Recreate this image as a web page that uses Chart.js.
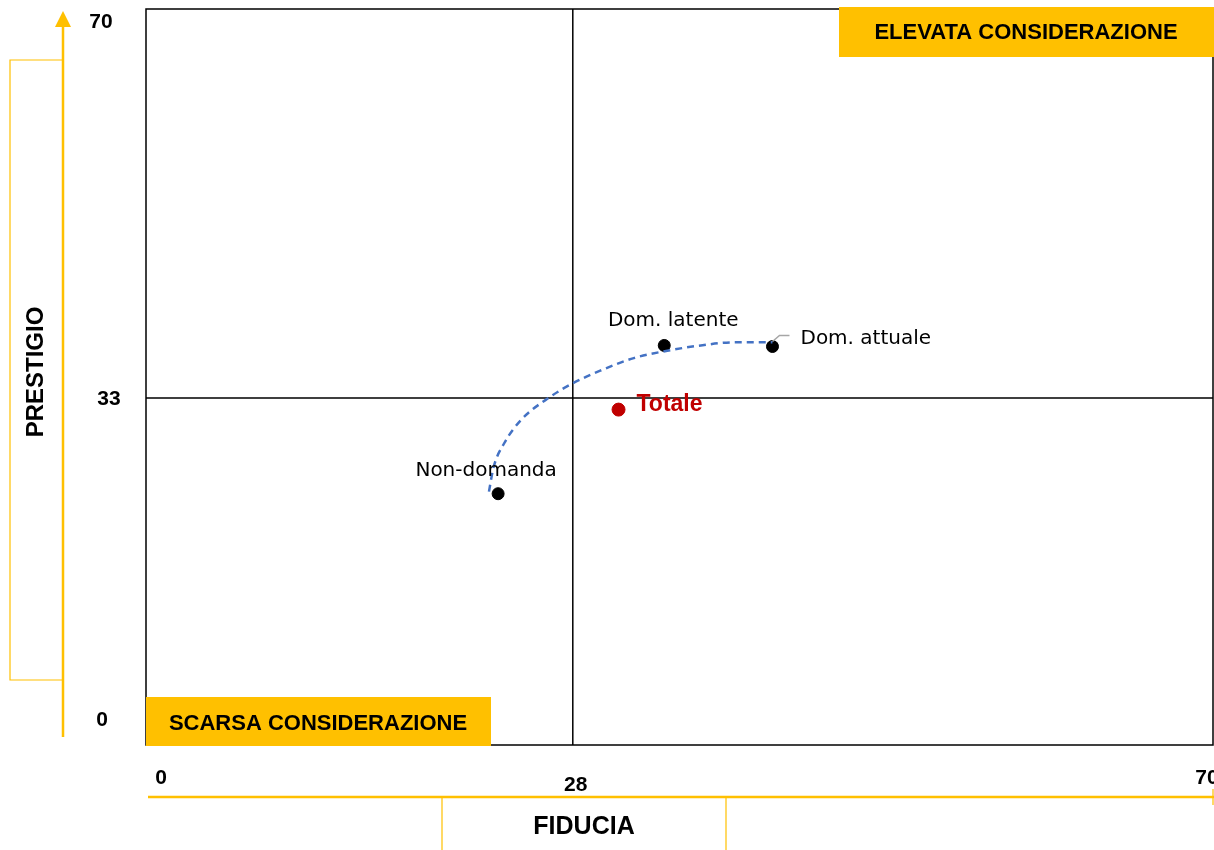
<!DOCTYPE html>
<html>
<head>
<meta charset="utf-8">
<script src="https://cdn.jsdelivr.net/npm/chart.js@4.4.1/dist/chart.umd.min.js"></script>
<style>
    html, body { margin: 0; padding: 0; background: #fff; }
    #wrap { position: relative; width: 1214px; height: 850px; }
</style>
</head>
<body>
<div id="wrap"><canvas id="mappa"></canvas></div>
<script>
// segmenti
const segmenti = ['Non-domanda', 'Dom. latente', 'Dom. attuale'];
const fiducia = [23.1, 34.0, 41.1];
const prestigio = [23.9, 38.0, 37.9];

// totale
const totaleLabel = 'Totale';
const totaleFiducia = [31.0];
const totalePrestigio = [31.9];

// linea di tendenza
const trendFiducia = [22.5, 22.8, 23.5, 24.6, 26.5, 28.0, 29.8, 32.0, 34.2, 36.4, 38.6, 41.1];
const trendPrestigio = [24.1, 26.4, 28.7, 30.9, 33.1, 34.4, 35.6, 36.8, 37.5, 38.0, 38.3, 38.3];

// assi
const xTicks = [0, 28, 70];
const yTicks = [0, 33, 70];
const xSoglia = 28;
const ySoglia = 33;
const asseMax = 70;

const ARANCIO = '#FFC000';
const BOLD = '"Liberation Sans", Arial, sans-serif';

// posizione delle etichette rispetto ai punti
const labelPos = [
    { dx: -12, dy: -18, align: 'center' },
    { dx: 9, dy: -19, align: 'center' },
    { dx: 28, dy: -3, align: 'left' }
];
const xTickPos = [{ dx: 15, y: 778 }, { dx: 3, y: 785 }, { dx: -6, y: 778 }];
const yTickPos = [{ x: 102, dy: -25 }, { x: 109, dy: 1 }, { x: 101, dy: 13 }];

const toPoints = (xs, ys) => xs.map((x, i) => ({ x: x, y: ys[i] }));

const decor = {
    id: 'decor',
    beforeDatasetsDraw(chart) {
        const ctx = chart.ctx;
        const a = chart.chartArea;
        const xs = chart.scales.x, ys = chart.scales.y;
        ctx.save();
        ctx.strokeStyle = '#000';
        ctx.lineWidth = 1.5;
        ctx.strokeRect(a.left, a.top, a.right - a.left, a.bottom - a.top);
        const qx = xs.getPixelForValue(xSoglia);
        const qy = ys.getPixelForValue(ySoglia);
        ctx.beginPath();
        ctx.moveTo(qx, a.top); ctx.lineTo(qx, a.bottom);
        ctx.moveTo(a.left, qy); ctx.lineTo(a.right, qy);
        ctx.stroke();
        ctx.restore();
    },
    afterDatasetsDraw(chart) {
        const ctx = chart.ctx;
        const xs = chart.scales.x, ys = chart.scales.y;
        ctx.save();

        // etichette dei segmenti
        const meta = chart.getDatasetMeta(1);
        ctx.font = '20px "DejaVu Sans", sans-serif';
        ctx.fillStyle = '#000';
        ctx.textBaseline = 'alphabetic';
        meta.data.forEach((p, i) => {
            const pos = labelPos[i];
            ctx.textAlign = pos.align;
            ctx.fillText(segmenti[i], p.x + pos.dx, p.y + pos.dy);
        });
        // linea guida per Dom. attuale
        const pa = meta.data[2];
        ctx.strokeStyle = '#A6A6A6';
        ctx.lineWidth = 1.5;
        ctx.beginPath();
        ctx.moveTo(pa.x, pa.y - 5);
        ctx.lineTo(pa.x + 7, pa.y - 11);
        ctx.lineTo(pa.x + 17, pa.y - 11);
        ctx.stroke();

        // Totale
        const pt = chart.getDatasetMeta(2).data[0];
        ctx.font = 'bold 23px ' + BOLD;
        ctx.fillStyle = '#C00000';
        ctx.textAlign = 'left';
        ctx.fillText(totaleLabel, pt.x + 18, pt.y + 1);

        // riquadri
        ctx.fillStyle = ARANCIO;
        ctx.fillRect(839, 7, 375, 50);
        ctx.fillRect(146, 697, 345, 49);
        ctx.fillStyle = '#000';
        ctx.font = 'bold 22px ' + BOLD;
        ctx.textAlign = 'center';
        ctx.textBaseline = 'middle';
        ctx.fillText('ELEVATA CONSIDERAZIONE', 1026, 33);
        ctx.fillText('SCARSA CONSIDERAZIONE', 318, 724);

        // asse Y arancio con freccia
        ctx.strokeStyle = ARANCIO;
        ctx.fillStyle = ARANCIO;
        ctx.lineWidth = 2.5;
        ctx.beginPath();
        ctx.moveTo(63, 24); ctx.lineTo(63, 737);
        ctx.stroke();
        ctx.beginPath();
        ctx.moveTo(63, 11); ctx.lineTo(71, 27); ctx.lineTo(55, 27);
        ctx.closePath();
        ctx.fill();
        ctx.lineWidth = 1.2;
        ctx.beginPath();
        ctx.moveTo(63, 60); ctx.lineTo(10, 60); ctx.lineTo(10, 680); ctx.lineTo(63, 680);
        ctx.stroke();

        // asse X arancio
        ctx.lineWidth = 2.5;
        ctx.beginPath();
        ctx.moveTo(148, 797); ctx.lineTo(1214, 797);
        ctx.stroke();
        ctx.lineWidth = 1.2;
        ctx.beginPath();
        ctx.moveTo(1213, 789); ctx.lineTo(1213, 805);
        ctx.moveTo(442, 797); ctx.lineTo(442, 850);
        ctx.moveTo(726, 797); ctx.lineTo(726, 850);
        ctx.stroke();

        // titoli assi
        ctx.fillStyle = '#000';
        ctx.font = 'bold 25px ' + BOLD;
        ctx.fillText('FIDUCIA', 584, 827);
        ctx.save();
        ctx.translate(36, 372);
        ctx.rotate(-Math.PI / 2);
        ctx.font = 'bold 24px ' + BOLD;
        ctx.fillText('PRESTIGIO', 0, 0);
        ctx.restore();

        // tick
        ctx.font = 'bold 21px ' + BOLD;
        xTicks.forEach((v, i) => {
            ctx.fillText(String(v), xs.getPixelForValue(v) + xTickPos[i].dx, xTickPos[i].y);
        });
        yTicks.forEach((v, i) => {
            ctx.fillText(String(v), yTickPos[i].x, ys.getPixelForValue(v) + yTickPos[i].dy);
        });
        ctx.restore();
    }
};

new Chart(document.getElementById('mappa'), {
    type: 'scatter',
    data: {
        datasets: [
            {
                type: 'line',
                label: 'Tendenza',
                data: toPoints(trendFiducia, trendPrestigio),
                borderColor: '#4472C4',
                borderWidth: 2.5,
                borderDash: [7, 5],
                cubicInterpolationMode: 'monotone',
                pointRadius: 0,
                fill: false
            },
            {
                label: 'Segmenti',
                data: toPoints(fiducia, prestigio),
                backgroundColor: '#000',
                borderColor: '#000',
                pointRadius: 6,
                pointHoverRadius: 6
            },
            {
                label: totaleLabel,
                data: toPoints(totaleFiducia, totalePrestigio),
                backgroundColor: '#C00000',
                borderColor: '#C00000',
                pointRadius: 6.5,
                pointHoverRadius: 6.5
            }
        ]
    },
    options: {
        responsive: true,
        maintainAspectRatio: false,
        animation: false,
        layout: { autoPadding: false, padding: { left: 146, top: 9, right: 1, bottom: 105 } },
        scales: {
            x: { type: 'linear', min: 0, max: asseMax, display: false },
            y: { type: 'linear', min: 0, max: asseMax, display: false }
        },
        plugins: {
            legend: { display: false },
            tooltip: { enabled: false }
        }
    },
    plugins: [decor]
});
</script>
</body>
</html>
